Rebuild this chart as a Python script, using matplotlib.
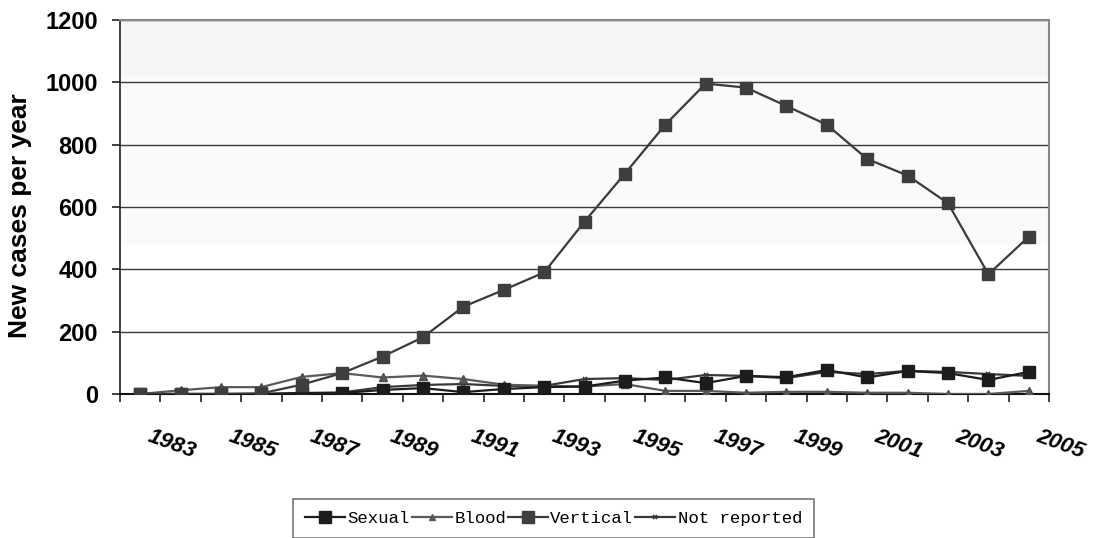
import matplotlib
matplotlib.use("Agg")
import matplotlib.pyplot as plt
import matplotlib.transforms as mtransforms
from matplotlib.lines import Line2D

years = list(range(1983, 2006))
sexual = [0, 0, 0, 0, 3, 3, 13, 19, 6, 16, 22, 24, 43, 53, 35, 58, 54, 77, 53, 74, 67, 45, 71]
blood = [0, 12, 22, 22, 55, 67, 53, 59, 48, 30, 26, 24, 32, 10, 10, 4, 7, 7, 4, 4, 0, 0, 10]
vertical = [0, 0, 0, 2, 30, 67, 120, 182, 280, 334, 390, 553, 707, 864, 996, 983, 924, 864,
            754, 701, 612, 384, 505]
not_reported = [0, 0, 0, 0, 3, 5, 22, 29, 32, 26, 26, 48, 51, 45, 61, 58, 51, 71, 64, 74, 71, 64, 58]
series_names = ["Sexual", "Blood", "Vertical", "Not reported"]
y_ticks = [0, 200, 400, 600, 800, 1000, 1200]
label_years = years[::2]

W, H = 1093, 538
fig = plt.figure(figsize=(W / 100, H / 100), dpi=100)
ax = fig.add_axes([120 / W, (H - 394) / H, (1049 - 120) / W, 374 / H])

x = list(range(len(years)))
ax.set_xlim(-0.5, len(years) - 0.5)
ax.set_ylim(0, 1200)

# background bands (gradient look)
ax.axhspan(1020, 1200, color="#f5f5f5", zorder=0, lw=0)
ax.axhspan(480, 1020, color="#fafafa", zorder=0, lw=0)

for v in y_ticks[1:]:
    ax.axhline(v, color="#3a3a3a", lw=1.0, zorder=1)

ax.plot(x, not_reported, color="#383838", lw=1.6, marker="x", ms=3.5, mew=1.2, zorder=3)
ax.plot(x, blood, color="#5a5a5a", lw=1.6, marker="^", ms=6, mec="#4a4a4a", mfc="#5a5a5a", zorder=4)
ax.plot(x, sexual, color="#1c1c1c", lw=1.6, marker="s", ms=8.5, mfc="#1c1c1c", mec="#1c1c1c", zorder=5)
ax.plot(x, vertical, color="#3a3a3a", lw=1.6, marker="s", ms=8.5, mfc="#3e3e3e", mec="#3e3e3e", zorder=6)

# spines
for s in ["top", "right"]:
    ax.spines[s].set_color("#888888")
    ax.spines[s].set_linewidth(1.5)
ax.spines["left"].set_color("#222222")
ax.spines["bottom"].set_color("#111111")
ax.spines["left"].set_linewidth(1.2)
ax.spines["bottom"].set_linewidth(1.5)

ax.set_yticks(y_ticks)
ax.set_yticklabels([str(v) for v in y_ticks], fontfamily="Liberation Sans",
                   fontweight="bold", fontsize=17)
ax.tick_params(axis="y", direction="out", length=6, width=1.2, color="#222222", pad=10)

ax.set_xticks([i - 0.5 for i in range(len(years) + 1)])
ax.set_xticklabels([])
ax.tick_params(axis="x", direction="out", length=6, width=1.2, color="#222222")

trans = mtransforms.blended_transform_factory(ax.transData, ax.transAxes)
for yr in label_years:
    i = years.index(yr)
    off = mtransforms.offset_copy(trans, fig=fig, x=12, y=-32, units="dots")
    ax.text(i, 0, str(yr), transform=off, rotation=-20, rotation_mode="anchor",
            ha="left", va="top", fontfamily="Liberation Sans", fontweight="bold",
            fontstyle="italic", fontsize=16)

ax.set_ylabel("New cases per year", fontfamily="Liberation Sans", fontweight="bold",
              fontsize=19)
ax.yaxis.set_label_coords((32 - 120) / 929, (394 - 216) / 374)

handles = [
    Line2D([], [], color="#1c1c1c", lw=1.6, marker="s", ms=8.5, mfc="#1c1c1c", mec="#1c1c1c"),
    Line2D([], [], color="#5a5a5a", lw=1.6, marker="^", ms=5, mfc="#5a5a5a", mec="#5a5a5a"),
    Line2D([], [], color="#3a3a3a", lw=1.6, marker="s", ms=8.5, mfc="#3e3e3e", mec="#3e3e3e"),
    Line2D([], [], color="#383838", lw=1.6, marker="x", ms=3, mew=1.2),
]
leg = fig.legend(handles, series_names, loc="upper left",
                 bbox_to_anchor=(293 / W, 1 - 499 / H), ncol=4, frameon=True,
                 fancybox=False, prop={"family": "Liberation Mono", "size": 12.5},
                 handlelength=2.3, handletextpad=0.15, columnspacing=0.1,
                 borderpad=0.7, borderaxespad=0)
leg.get_frame().set_edgecolor("#555555")
leg.get_frame().set_linewidth(1.2)

fig.savefig("out.png", dpi=100)
